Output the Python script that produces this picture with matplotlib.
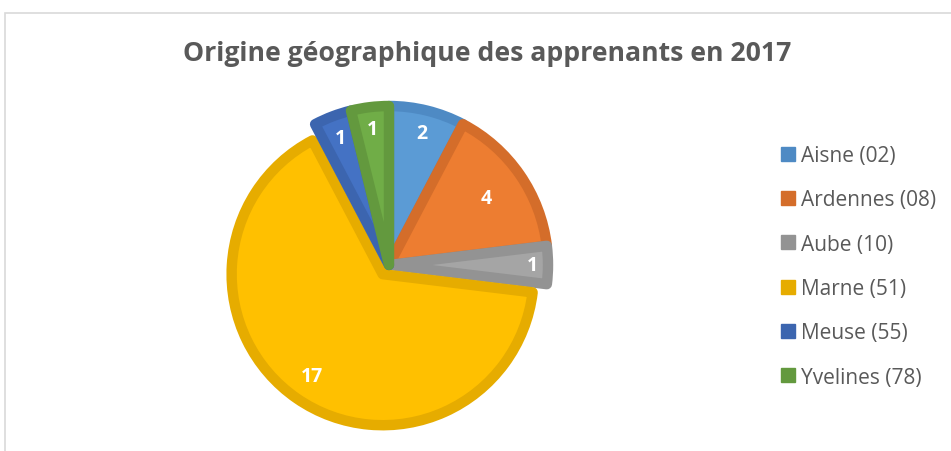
import numpy as np
import matplotlib.pyplot as plt
from matplotlib.patches import Patch, Rectangle

departements = ["Aisne (02)", "Ardennes (08)", "Aube (10)", "Marne (51)", "Meuse (55)", "Yvelines (78)"]
apprenants = [2, 4, 1, 17, 1, 1]

fill_colors = ["#5B9BD5", "#ED7D31", "#A5A5A5", "#FFC000", "#4472C4", "#70AD47"]
edge_colors = ["#4E8AC4", "#D46D2A", "#939393", "#E6AC00", "#3C65AF", "#63993E"]
explode = [0, 0, 0, 0.07, 0, 0]
radius_scale = [1, 1, 1, 0.95, 1, 1]
label_dist = [0.853, 0.74, 0.90, 0.78, 0.855, 0.863]

plt.rcParams["font.family"] = ["Open Sans", "DejaVu Sans"]

W, H = 951, 452
fig = plt.figure(figsize=(W / 100, H / 100), dpi=100)

# frame around the chart area
fig.patches.append(Rectangle((5 / W, -0.1), 1.2, (H - 14) / H + 0.1, transform=fig.transFigure,
                             fill=False, edgecolor="#D9D9D9", linewidth=1.2))

cx, cy, r = 389, 266, 159
ax = fig.add_axes([(cx - r) / W, (H - cy - r) / H, 2 * r / W, 2 * r / H])
ax.axis("off")

wedges, _ = ax.pie(apprenants, colors=fill_colors, startangle=90, counterclock=False,
                   explode=explode, radius=1)
ax.set_xlim(-1, 1)
ax.set_ylim(-1, 1)
ax.set_aspect("equal")
for w, ec, s in zip(wedges, edge_colors, radius_scale):
    w.set_radius(s)
    w.set_edgecolor(ec)
    w.set_linewidth(7.5)
    w.set_joinstyle("round")
    w.set_clip_on(False)

for w, v, d in zip(wedges, apprenants, label_dist):
    ang = np.deg2rad((w.theta1 + w.theta2) / 2)
    ox, oy = w.center
    ax.text(ox + d * np.cos(ang), oy + d * np.sin(ang), str(v), ha="center", va="center",
            color="white", fontsize=14, fontweight="bold")

fig.text(487 / W, 1 - 54 / H, "Origine géographique des apprenants en 2017", ha="center", va="center",
         fontsize=19.2, fontweight="bold", color="#595959")

handles = [Patch(facecolor=c, edgecolor=c) for c in edge_colors]
fig.legend(handles, departements, loc="upper left", bbox_to_anchor=(781 / W, 1 - 146 / H),
           frameon=False, fontsize=15, labelcolor="#595959", handlelength=0.67, handleheight=0.67,
           handletextpad=0.29, labelspacing=1.12, borderpad=0, borderaxespad=0)

fig.savefig("out.png", dpi=100)
